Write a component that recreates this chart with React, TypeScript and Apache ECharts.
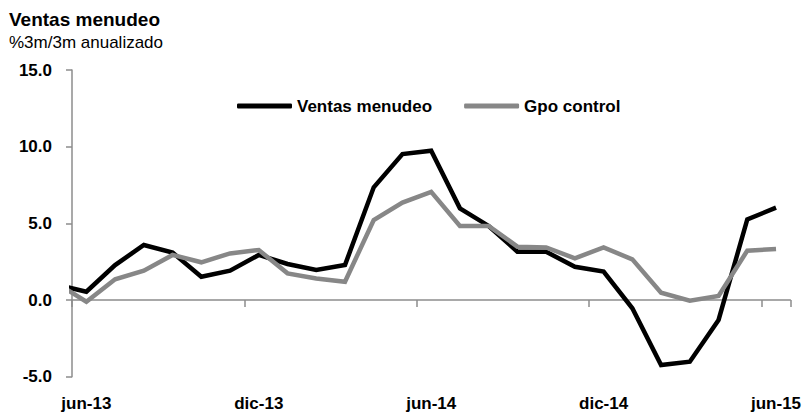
import React, { useEffect, useRef } from "react";
import * as echarts from "echarts";

const months = [
  "jun-13", "jul-13", "ago-13", "sep-13", "oct-13", "nov-13",
  "dic-13", "ene-14", "feb-14", "mar-14", "abr-14", "may-14",
  "jun-14", "jul-14", "ago-14", "sep-14", "oct-14", "nov-14",
  "dic-14", "ene-15", "feb-15", "mar-15", "abr-15", "may-15",
  "jun-15",
];

// value of the month before the first category (may-13), only partly visible at the left edge
const ventasPrev = 0.98;
const gpoPrev = 1.05;

const ventasMenudeo = [
  0.54, 2.28, 3.59, 3.09, 1.52, 1.91,
  2.94, 2.35, 1.96, 2.28, 7.35, 9.52,
  9.74, 5.98, 4.83, 3.15, 3.15, 2.17,
  1.85, -0.54, -4.24, -4.02, -1.3, 5.26,
  6.02,
];

const gpoControl = [
  -0.11, 1.35, 1.91, 2.94, 2.46, 3.04,
  3.26, 1.74, 1.41, 1.19, 5.22, 6.35,
  7.05, 4.83, 4.83, 3.48, 3.43, 2.72,
  3.43, 2.65, 0.48, -0.04, 0.26, 3.22,
  3.33,
];

const yTicks = { min: -5, max: 15, interval: 5 };

const FONT = "'Liberation Sans', Arial, Helvetica, sans-serif";
const AXIS_COLOR = "#8c8c8c";

export default function App() {
  const ref = useRef<HTMLDivElement>(null);

  useEffect(() => {
    if (!ref.current) return;
    const chart = echarts.init(ref.current, null, { renderer: "svg" });
    const toPairs = (prev: number, arr: number[]) => [
      [-1, prev],
      ...arr.map((v, i) => [i, v]),
    ];
    chart.setOption({
      animation: false,
      backgroundColor: "#ffffff",
      textStyle: { fontFamily: FONT },
      title: {
        text: "Ventas menudeo",
        subtext: "%3m/3m anualizado",
        left: 9,
        top: 10,
        padding: 0,
        itemGap: 5,
        textStyle: { fontSize: 19, fontWeight: "bold", color: "#000", fontFamily: FONT },
        subtextStyle: { fontSize: 17, color: "#000", fontFamily: FONT },
      },
      legend: {
        left: 237,
        top: 97.5,
        padding: 0,
        icon: "roundRect",
        itemWidth: 55,
        itemHeight: 5,
        itemGap: 32,
        data: ["Ventas menudeo", "Gpo control"],
        textStyle: { fontSize: 17, fontWeight: "bold", color: "#000", fontFamily: FONT },
      },
      grid: { left: 72, right: 11, top: 70, bottom: 38.3, containLabel: false },
      xAxis: [
        {
          type: "category",
          data: months,
          boundaryGap: true,
          position: "bottom",
          axisLine: { show: true, onZero: true, lineStyle: { color: AXIS_COLOR, width: 1.5 } },
          axisTick: { show: true, interval: 5, length: 7, inside: false, lineStyle: { color: AXIS_COLOR, width: 1.5 } },
          axisLabel: { show: false },
          splitLine: { show: false },
        },
        {
          type: "category",
          data: months,
          boundaryGap: true,
          position: "bottom",
          axisLine: { show: false, onZero: false },
          axisTick: { show: false },
          axisLabel: {
            show: true,
            interval: 5,
            margin: 18,
            fontSize: 17,
            fontWeight: "bold",
            color: "#000",
            fontFamily: FONT,
          },
          splitLine: { show: false },
        },
        {
          type: "value",
          min: -0.5,
          max: 24.5,
          show: false,
          axisLine: { onZero: false },
          splitLine: { show: false },
        },
      ],
      yAxis: {
        type: "value",
        min: yTicks.min,
        max: yTicks.max,
        interval: yTicks.interval,
        axisLine: { show: true, onZero: false, lineStyle: { color: AXIS_COLOR, width: 1.5 } },
        axisTick: { show: true, length: 6, inside: false, lineStyle: { color: AXIS_COLOR, width: 1.5 } },
        splitLine: { show: false },
        axisLabel: {
          formatter: (v: number) => v.toFixed(1),
          margin: 20,
          fontSize: 17,
          fontWeight: "bold",
          color: "#000",
          fontFamily: FONT,
        },
      },
      series: [
        {
          name: "Ventas menudeo",
          type: "line",
          xAxisIndex: 2,
          data: toPairs(ventasPrev, ventasMenudeo),
          symbol: "none",
          clip: true,
          lineStyle: { color: "#000000", width: 4.5, join: "miter" },
          itemStyle: { color: "#000000" },
        },
        {
          name: "Gpo control",
          type: "line",
          xAxisIndex: 2,
          data: toPairs(gpoPrev, gpoControl),
          symbol: "none",
          clip: true,
          lineStyle: { color: "#878787", width: 4.5, join: "miter" },
          itemStyle: { color: "#878787" },
        },
      ],
    });
    return () => chart.dispose();
  }, []);

  return <div ref={ref} style={{ width: 804, height: 415, position: "absolute", left: 0, top: 0 }} />;
}
